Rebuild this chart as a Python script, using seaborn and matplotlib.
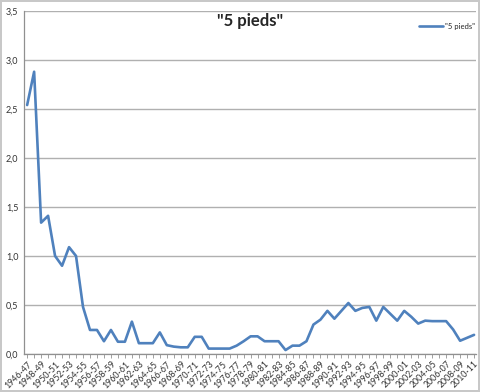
import matplotlib
matplotlib.use("Agg")
import matplotlib.pyplot as plt
import seaborn as sns
import pandas as pd
import numpy as np

seasons = [
    "1946-47", "1947-48", "1948-49", "1949-50", "1950-51", "1951-52", "1952-53", "1953-54",
    "1954-55", "1955-56", "1956-57", "1957-58", "1958-59", "1959-60", "1960-61", "1961-62",
    "1962-63", "1963-64", "1964-65", "1965-66", "1966-67", "1967-68", "1968-69", "1969-70",
    "1970-71", "1971-72", "1972-73", "1973-74", "1974-75", "1975-76", "1976-77", "1977-78",
    "1978-79", "1979-80", "1980-81", "1981-82", "1982-83", "1983-84", "1984-85", "1985-86",
    "1986-87", "1987-88", "1988-89", "1989-90", "1990-91", "1991-92", "1992-93", "1993-94",
    "1994-95", "1995-96", "1996-97", "1997-98", "1998-99", "1999-00", "2000-01", "2001-02",
    "2002-03", "2003-04", "2004-05", "2005-06", "2006-07", "2007-08", "2008-09", "2009-10",
    "2010-11",
]
values = [
    2.54, 2.88, 1.34, 1.41, 1.00, 0.90, 1.09, 1.00,
    0.48, 0.245, 0.245, 0.13, 0.245, 0.125, 0.125, 0.33,
    0.11, 0.11, 0.11, 0.22, 0.09, 0.075, 0.068, 0.068,
    0.175, 0.175, 0.055, 0.055, 0.055, 0.055, 0.085, 0.13,
    0.18, 0.18, 0.13, 0.13, 0.13, 0.04, 0.085, 0.085,
    0.13, 0.30, 0.35, 0.44, 0.36, 0.44, 0.52, 0.44,
    0.47, 0.48, 0.34, 0.48, 0.41, 0.34, 0.44, 0.38,
    0.31, 0.34, 0.335, 0.335, 0.335, 0.25, 0.135, 0.165,
    0.195,
]
series_name = '"5 pieds"'
y_ticks = [0.0, 0.5, 1.0, 1.5, 2.0, 2.5, 3.0, 3.5]

sns.set_theme(style="white")
plt.rcParams["font.family"] = ["Lato", "DejaVu Sans"]

df = pd.DataFrame({"idx": np.arange(len(seasons)), "val": values, "series": series_name})

fig = plt.figure(figsize=(4.8, 3.92), dpi=100)
fig.patch.set_facecolor("white")
fig.patch.set_edgecolor("#c8c8c8")
fig.patch.set_linewidth(1.5)
ax = fig.add_axes([0.05, 0.097, 0.942, 0.875])

sns.lineplot(data=df, x="idx", y="val", hue="series", palette=["#4F81BD"],
             linewidth=1.9, ax=ax, legend=True)

ax.set_xlim(-0.45, len(seasons) - 0.7)
ax.set_ylim(0, 3.5)
ax.set_yticks(y_ticks)
ax.set_yticklabels([f"{v:.1f}".replace(".", ",") for v in y_ticks], fontsize=6.5, color="#333333")
ax.yaxis.grid(True, color="#b0b0b0", linewidth=1.0)
ax.xaxis.grid(False)

ax.set_xticks(np.arange(len(seasons)))
ax.set_xticklabels([s if i % 2 == 0 else "" for i, s in enumerate(seasons)],
                   rotation=45, ha="right", rotation_mode="anchor", fontsize=6.3, color="#333333")
ax.tick_params(axis="x", which="both", length=3, width=0.6, color="#909090", bottom=True, pad=1)
ax.tick_params(axis="y", length=0, pad=4)

for side in ["top", "right"]:
    ax.spines[side].set_visible(False)
for side in ["left", "bottom"]:
    ax.spines[side].set_color("#909090")
    ax.spines[side].set_linewidth(0.9)

ax.set_xlabel("")
ax.set_ylabel("")
ax.set_title(series_name, fontsize=12, fontweight="bold", y=0.955, pad=0)

leg = ax.legend(loc="upper right", bbox_to_anchor=(1.005, 0.975), frameon=False,
                fontsize=5.5, handlelength=3.2, handletextpad=0.3, borderaxespad=0)

fig.savefig("out.png", dpi=100)
